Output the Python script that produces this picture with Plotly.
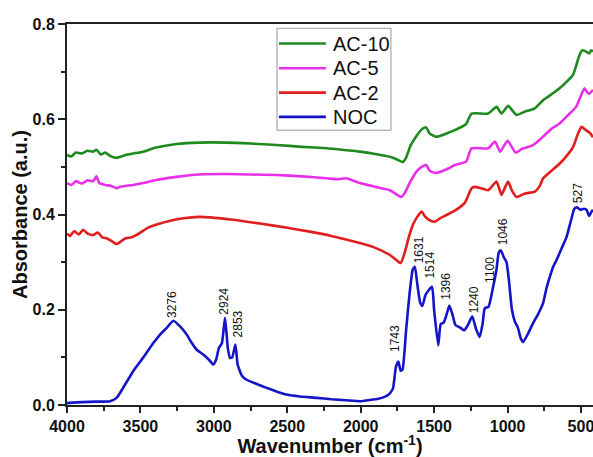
import plotly.graph_objects as go

# FTIR spectra: wavenumber (cm^-1) and absorbance (a.u.) for each sample
noc_wn = [4000, 3900, 3800, 3707, 3662, 3620, 3549, 3480, 3412, 3360, 3321, 3276,
          3230, 3185, 3150, 3117, 3072, 3030, 3004, 2985, 2965, 2945, 2924, 2905,
          2890, 2875, 2853, 2838, 2810, 2777, 2700, 2640, 2570, 2504, 2414, 2300,
          2200, 2100, 2000, 1950, 1880, 1830, 1800, 1780, 1760, 1743, 1728, 1715,
          1690, 1665, 1645, 1631, 1615, 1595, 1580, 1560, 1540, 1514, 1500, 1472,
          1455, 1435, 1415, 1396, 1375, 1355, 1320, 1295, 1270, 1240, 1215, 1190,
          1170, 1155, 1130, 1100, 1075, 1060, 1046, 1025, 1007, 990, 970, 950, 930,
          910, 894, 860, 826, 790, 758, 735, 712, 690, 667, 630, 598, 570, 545,
          527, 505, 480, 462, 445, 430, 418]
noc_abs = [0.004, 0.006, 0.007, 0.008, 0.015, 0.035, 0.071, 0.100, 0.130, 0.150,
           0.162, 0.177, 0.165, 0.148, 0.130, 0.116, 0.106, 0.094, 0.085, 0.095,
           0.120, 0.130, 0.183, 0.120, 0.099, 0.100, 0.127, 0.085, 0.062, 0.053,
           0.043, 0.036, 0.028, 0.022, 0.018, 0.015, 0.012, 0.010, 0.008, 0.010,
           0.013, 0.018, 0.025, 0.035, 0.080, 0.091, 0.072, 0.075, 0.160, 0.240,
           0.285, 0.290, 0.255, 0.215, 0.208, 0.230, 0.240, 0.248, 0.200, 0.125,
           0.170, 0.173, 0.190, 0.209, 0.190, 0.168, 0.162, 0.157, 0.168, 0.186,
           0.160, 0.143, 0.170, 0.203, 0.206, 0.245, 0.285, 0.320, 0.325, 0.310,
           0.300, 0.260, 0.200, 0.175, 0.163, 0.140, 0.132, 0.150, 0.172, 0.192,
           0.214, 0.245, 0.269, 0.290, 0.304, 0.330, 0.353, 0.385, 0.412, 0.415,
           0.410, 0.412, 0.410, 0.397, 0.405, 0.410]

ac2_wn = [4000, 3980, 3950, 3920, 3890, 3860, 3821, 3790, 3760, 3730, 3700, 3662,
          3640, 3600, 3560, 3526, 3450, 3367, 3250, 3095, 2900, 2686, 2500, 2346,
          2200, 2006, 1900, 1801, 1760, 1728, 1700, 1670, 1642, 1615, 1585, 1560,
          1530, 1495, 1460, 1415, 1359, 1290, 1245, 1222, 1180, 1132, 1075, 1041,
          1020, 996, 970, 939, 882, 814, 780, 758, 700, 644, 600, 553, 520, 496,
          470, 451, 435, 418]
ac2_abs = [0.360, 0.355, 0.365, 0.358, 0.368, 0.360, 0.357, 0.362, 0.352, 0.350,
           0.345, 0.338, 0.342, 0.350, 0.352, 0.357, 0.372, 0.381, 0.390, 0.395,
           0.390, 0.381, 0.372, 0.364, 0.355, 0.340, 0.330, 0.315, 0.305, 0.298,
           0.320, 0.355, 0.380, 0.395, 0.406, 0.395, 0.388, 0.385, 0.392, 0.399,
           0.408, 0.425, 0.455, 0.458, 0.455, 0.451, 0.469, 0.441, 0.455, 0.469,
           0.450, 0.437, 0.444, 0.448, 0.460, 0.476, 0.492, 0.507, 0.522, 0.542,
           0.570, 0.584, 0.578, 0.574, 0.570, 0.562]

ac5_wn = [4000, 3970, 3940, 3900, 3860, 3821, 3800, 3780, 3740, 3700, 3660, 3639,
          3600, 3550, 3481, 3400, 3254, 3100, 2913, 2750, 2573, 2400, 2232, 2150,
          2100, 2006, 1900, 1801, 1760, 1724, 1700, 1660, 1620, 1585, 1554, 1530,
          1486, 1400, 1359, 1282, 1245, 1132, 1086, 1050, 1000, 945, 900, 830, 770,
          700, 646, 590, 533, 500, 476, 455, 442, 418]
ac5_abs = [0.466, 0.462, 0.470, 0.465, 0.472, 0.470, 0.480, 0.466, 0.462, 0.460,
           0.455, 0.458, 0.460, 0.462, 0.466, 0.472, 0.479, 0.484, 0.485, 0.484,
           0.483, 0.480, 0.476, 0.474, 0.476, 0.466, 0.458, 0.451, 0.443, 0.437,
           0.445, 0.470, 0.490, 0.500, 0.504, 0.492, 0.487, 0.497, 0.504, 0.511,
           0.539, 0.539, 0.553, 0.532, 0.555, 0.530, 0.538, 0.545, 0.560, 0.580,
           0.591, 0.608, 0.626, 0.650, 0.665, 0.655, 0.654, 0.662]

ac10_wn = [4000, 3970, 3940, 3900, 3860, 3821, 3800, 3770, 3740, 3700, 3662, 3630,
           3600, 3550, 3481, 3400, 3254, 3100, 2913, 2750, 2573, 2400, 2232, 2100,
           2006, 1900, 1801, 1750, 1713, 1690, 1660, 1620, 1580, 1554, 1530, 1486,
           1400, 1359, 1282, 1245, 1132, 1075, 1041, 996, 939, 882, 814, 758, 720,
           646, 600, 555, 530, 510, 490, 465, 445, 430, 418]
ac10_abs = [0.525, 0.522, 0.530, 0.528, 0.534, 0.532, 0.536, 0.526, 0.530, 0.522,
            0.519, 0.522, 0.525, 0.528, 0.532, 0.540, 0.548, 0.551, 0.551, 0.549,
            0.546, 0.542, 0.539, 0.535, 0.532, 0.527, 0.521, 0.515, 0.510, 0.520,
            0.545, 0.565, 0.580, 0.583, 0.570, 0.563, 0.572, 0.577, 0.590, 0.612,
            0.612, 0.626, 0.612, 0.628, 0.609, 0.616, 0.623, 0.640, 0.648, 0.665,
            0.678, 0.693, 0.715, 0.735, 0.745, 0.742, 0.738, 0.745, 0.742]

series_names = ["AC-10", "AC-5", "AC-2", "NOC"]
series_colors = ["#1e8a1e", "#e830e8", "#e01e1e", "#1414c8"]
series_wn = [ac10_wn, ac5_wn, ac2_wn, noc_wn]
series_abs = [ac10_abs, ac5_abs, ac2_abs, noc_abs]

# Peak labels on the NOC spectrum: text, label x (cm^-1), label base (a.u.)
peak_text = ["3276", "2924", "2853", "1743", "1631", "1514", "1396", "1240",
             "1100", "1046", "527"]
peak_x = [3280, 2929, 2834, 1767, 1597, 1529, 1415, 1223, 1120, 1025, 519]
peak_y = [0.179, 0.185, 0.137, 0.108, 0.294, 0.262, 0.217, 0.189, 0.252, 0.332, 0.42]

FONT = "Arial, 'Liberation Sans', sans-serif"

fig = go.Figure()
for name, color, wn, ab in zip(series_names, series_colors, series_wn, series_abs):
    fig.add_trace(go.Scatter(x=wn, y=ab, mode="lines", name=name,
                             line=dict(color=color, width=2.6, shape="spline",
                                       smoothing=0.5),
                             showlegend=False))

for t, x, y in zip(peak_text, peak_x, peak_y):
    fig.add_annotation(x=x, y=y, text=t, textangle=-90, showarrow=False,
                       xanchor="center", yanchor="bottom",
                       font=dict(family=FONT, size=12, color="#111"))

# Boxed legend in the upper middle of the plot
box_x0, box_x1 = 2570, 1794
box_y0, box_y1 = 0.577, 0.791
fig.add_shape(type="rect", x0=box_x0, x1=box_x1, y0=box_y0, y1=box_y1,
              line=dict(color="#999", width=1), fillcolor="white", layer="above")
legend_y = [0.759, 0.707, 0.656, 0.605]
for name, color, ly in zip(series_names, series_colors, legend_y):
    fig.add_shape(type="line", x0=2557, x1=2237, y0=ly, y1=ly,
                  line=dict(color=color, width=2.6), layer="above")
    fig.add_annotation(x=2205, y=ly, text=name, showarrow=False, xanchor="left",
                       yanchor="middle", font=dict(family=FONT, size=20, color="#111"))

fig.update_layout(
    width=593, height=457,
    margin=dict(l=67, r=0, t=24, b=52),
    plot_bgcolor="white", paper_bgcolor="white",
    font=dict(family=FONT, color="#111"),
)
fig.update_xaxes(
    range=[4000, 418], dtick=500, tick0=0,
    showgrid=False, zeroline=False,
    showline=True, linecolor="#222", linewidth=2, mirror=True,
    ticks="outside", ticklen=6, tickwidth=2, tickcolor="#222",
    ticklabeloverflow="allow",
    minor=dict(ticks="outside", dtick=250, ticklen=4, tickwidth=2, tickcolor="#222"),
    tickfont=dict(family=FONT, size=16, weight="bold", color="#111"),
    title=dict(text="Wavenumber (cm<sup>-1</sup>)", standoff=4,
               font=dict(family=FONT, size=20, weight="bold", color="#111")),
)
fig.update_yaxes(
    range=[0, 0.8], dtick=0.2, tickformat=".1f",
    showgrid=False, zeroline=False,
    showline=True, linecolor="#222", linewidth=2, mirror=False,
    ticks="outside", ticklen=7, tickwidth=2, tickcolor="#222",
    minor=dict(ticks="outside", dtick=0.1, ticklen=4, tickwidth=2, tickcolor="#222"),
    tickfont=dict(family=FONT, size=16, weight="bold", color="#111"),
    title=dict(text="Absorbance (a.u.)", standoff=0,
               font=dict(family=FONT, size=20, weight="bold", color="#111")),
)

fig.write_html("out.html")
